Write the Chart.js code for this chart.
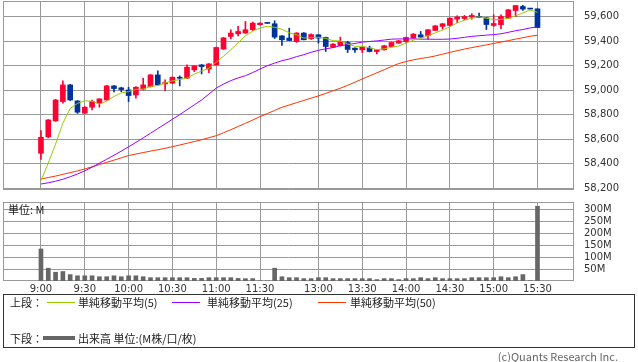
<!DOCTYPE html>
<html>
<head>
<meta charset="utf-8">
<script src="https://cdn.jsdelivr.net/npm/chart.js@4.4.1/dist/chart.umd.min.js"></script>
<style>
  body { margin: 0; background: #fff; width: 638px; height: 362px; position: relative; overflow: hidden;
         font-family: "Noto Sans CJK JP", sans-serif; color: #222; }
  canvas { position: absolute; left: 0; }
  #price { top: 0; }
  #volume { top: 196px; }
  .t { position: absolute; font-size: 11px; line-height: 14px; white-space: nowrap; }
  .ln { position: absolute; height: 1px; }
  #box { position: absolute; left: 3px; top: 294px; width: 630px; height: 52px; border: 1px solid #333; }
  #copy { position: absolute; right: 20px; top: 349px; font-size: 11px; line-height: 14px; color: #666; }
</style>
</head>
<body>
<canvas id="price" width="638" height="192"></canvas>
<canvas id="volume" width="638" height="100"></canvas>
<div class="t" style="left:8px;top:202px;">単位: M</div>

<div id="box"></div>
<div class="t" style="left:10px;top:295px;">上段：</div>
<div class="ln" style="left:47px;top:302px;width:28px;background:#99cc00;"></div>
<div class="t" style="left:78px;top:295px;">単純移動平均(5)</div>
<div class="ln" style="left:172px;top:302px;width:28px;background:#9900ff;"></div>
<div class="t" style="left:207px;top:295px;">単純移動平均(25)</div>
<div class="ln" style="left:318px;top:302px;width:28px;background:#ff3300;"></div>
<div class="t" style="left:350px;top:295px;">単純移動平均(50)</div>
<div class="t" style="left:10px;top:331px;">下段：</div>
<div class="ln" style="left:43px;top:336px;width:32px;height:4px;background:#666;"></div>
<div class="t" style="left:78px;top:331px;">出来高 単位:(M株/口/枚)</div>
<div id="copy">(c)Quants Research Inc.</div>

<script>
// 5-minute bars, 9:00 .. 15:30 (slot 31 is the empty lunch slot)
var open = [
  58484, 58618, 58749, 58907, 59043, 58912, 58812, 58861, 58893, 58920,
  59035, 59019, 59002, 58961, 59008, 59029, 59125, 59051, 59057, 59106,
  59098, 59166, 59207, 59172, 59207, 59336, 59439, 59461, 59467, 59494,
  59535, 59548, 59543, 59444, 59426, 59398, 59467, 59420, 59453, 59431,
  59352, 59365, 59390, 59344, 59330, 59344, 59316, 59330, 59357, 59385,
  59398, 59426, 59453, 59447, 59488, 59521, 59529, 59581, 59586, 59598,
  59602, 59592, 59529, 59535, 59589, 59651, 59684, 59665, 59665
];
var high = [
  58669, 58760, 58925, 59076, 59048, 58915, 58866, 58920, 58929, 59040,
  59038, 59024, 59024, 59030, 59098, 59128, 59158, 59084, 59108, 59117,
  59207, 59200, 59209, 59218, 59352, 59430, 59494, 59521, 59562, 59557,
  59550, 59548, 59567, 59446, 59507, 59470, 59470, 59460, 59455, 59434,
  59380, 59434, 59400, 59346, 59354, 59360, 59332, 59366, 59392, 59406,
  59434, 59464, 59480, 59496, 59528, 59545, 59592, 59608, 59611, 59625,
  59630, 59594, 59616, 59616, 59660, 59694, 59693, 59665, 59665
];
var low = [
  58435, 58610, 58745, 58893, 58915, 58810, 58810, 58839, 58861, 58918,
  58986, 58988, 58907, 58935, 59000, 59025, 59040, 58997, 59055, 59035,
  59095, 59152, 59133, 59144, 59205, 59334, 59420, 59444, 59465, 59488,
  59533, 59546, 59422, 59365, 59404, 59390, 59410, 59415, 59385, 59316,
  59348, 59360, 59308, 59308, 59308, 59312, 59297, 59328, 59355, 59383,
  59390, 59424, 59432, 59417, 59486, 59499, 59527, 59553, 59575, 59581,
  59592, 59496, 59521, 59502, 59587, 59600, 59653, 59663, 59512
];
var close = [
  58615, 58757, 58920, 59043, 58920, 58820, 58861, 58907, 58929, 59035,
  59013, 59005, 58956, 59024, 59043, 59125, 59043, 59062, 59106, 59098,
  59188, 59199, 59193, 59215, 59349, 59428, 59467, 59480, 59494, 59548,
  59548, 59546, 59434, 59412, 59406, 59467, 59412, 59455, 59426, 59357,
  59376, 59398, 59333, 59330, 59352, 59316, 59330, 59363, 59390, 59404,
  59431, 59458, 59434, 59494, 59526, 59543, 59589, 59598, 59602, 59611,
  59594, 59537, 59545, 59602, 59657, 59692, 59663, 59663, 59512
];
var ma5 = [
  58260, 58405, 58560, 58730, 58851, 58892, 58913, 58910, 58887, 58910,
  58949, 58978, 58988, 59007, 59008, 59031, 59038, 59059, 59076, 59087,
  59099, 59131, 59157, 59179, 59229, 59277, 59330, 59388, 59444, 59483,
  59507, 59523, 59514, 59498, 59469, 59453, 59426, 59430, 59433, 59423,
  59405, 59402, 59378, 59359, 59358, 59346, 59332, 59338, 59350, 59361,
  59384, 59409, 59423, 59444, 59469, 59491, 59517, 59550, 59572, 59589,
  59599, 59588, 59578, 59578, 59587, 59607, 59632, 59655, 59637
];
var ma25 = [
  58233, 58243, 58256, 58272, 58292, 58315, 58340, 58371, 58403, 58435,
  58468, 58502, 58537, 58573, 58610, 58648, 58686, 58724, 58762, 58800,
  58840, 58880, 58920, 58968, 59017, 59050, 59078, 59100, 59118, 59144,
  59173, 59200, 59221, 59241, 59255, 59274, 59290, 59310, 59326, 59338,
  59348, 59363, 59373, 59382, 59393, 59398, 59403, 59410, 59417, 59419,
  59419, 59419, 59417, 59417, 59416, 59416, 59418, 59424, 59432, 59440,
  59445, 59450, 59454, 59461, 59473, 59486, 59496, 59509, 59517
];
var ma50 = [
  58274, 58286, 58298, 58312, 58326, 58340, 58356, 58374, 58392, 58410,
  58428, 58447, 58466, 58478, 58490, 58502, 58513, 58525, 58538, 58552,
  58566, 58580, 58595, 58611, 58628, 58652, 58677, 58703, 58729, 58756,
  58784, 58809, 58834, 58860, 58879, 58898, 58916, 58935, 58953, 58974,
  58995, 59016, 59040, 59065, 59092, 59117, 59142, 59167, 59193, 59218,
  59234, 59248, 59259, 59268, 59280, 59294, 59309, 59323, 59336, 59348,
  59359, 59370, 59382, 59393, 59405, 59417, 59429, 59441, 59449
];
// volume, millions
var volume = [
  135, 54, 37, 40, 27, 22, 22, 22, 18, 18,
  22, 18, 22, 22, 18, 14, 14, 14, 14, 14,
  14, 11, 11, 14, 14, 14, 14, 11, 10, 10,
  1, 0, 54, 18, 14, 14, 10, 10, 14, 14,
  10, 10, 10, 10, 10, 10, 6, 10, 10, 6,
  10, 10, 14, 10, 14, 10, 10, 10, 10, 14,
  14, 14, 14, 18, 14, 18, 27, 1, 315
];

var timeTickSlots = [0, 6, 12, 18, 24, 30, 38, 44, 50, 56, 62, 68];
var timeTickLabels = ['9:00', '9:30', '10:00', '10:30', '11:00', '11:30',
                      '13:00', '13:30', '14:00', '14:30', '15:00', '15:30'];
var priceTicks = [58200, 58400, 58600, 58800, 59000, 59200, 59400, 59600];
var volumeTicks = [50, 100, 150, 200, 250, 300];

var RED = '#ff0033', BLUE = '#003399', GRID = '#999999';
var X_MIN = -5.2, X_MAX = 73.0;

Chart.defaults.font.family = '"DejaVu Sans", sans-serif';
Chart.defaults.font.size = 10;
Chart.defaults.color = '#333';

var slots = close.map(function(c, i) { return i; });
var candleColor = close.map(function(c, i) { return c > open[i] ? RED : BLUE; });

function xy(arr) {
    return slots.map(function(i) { return {x: i, y: arr[i]}; });
}

function noPad(s) {
    s.paddingLeft = 0; s.paddingRight = 0; s.paddingTop = 0; s.paddingBottom = 0;
}

var frame = {
    id: 'frame',
    beforeDatasetsDraw: function(chart) {
        var a = chart.chartArea, ctx = chart.ctx;
        ctx.save();
        ctx.strokeStyle = GRID;
        ctx.lineWidth = 1;
        ctx.strokeRect(Math.round(a.left) + 0.5, Math.round(a.top) + 0.5,
                       Math.round(a.right - a.left) - 1, Math.round(a.bottom - a.top) - 1);
        ctx.restore();
    }
};

function timeAxis(showLabels, height) {
    return {
        type: 'linear', min: X_MIN, max: X_MAX, offset: false,
        afterBuildTicks: function(s) {
            s.ticks = timeTickSlots.map(function(v) { return {value: v}; });
        },
        afterFit: function(s) { s.height = height; noPad(s); },
        grid: {color: GRID, drawTicks: false, offset: false},
        border: {display: false},
        ticks: {
            display: showLabels, padding: 2, autoSkip: false, maxRotation: 0,
            callback: function(v) { return timeTickLabels[timeTickSlots.indexOf(v)]; }
        }
    };
}

function valueAxis(min, max, ticks, fmt) {
    return {
        position: 'right', min: min, max: max,
        afterBuildTicks: function(s) {
            s.ticks = ticks.map(function(v) { return {value: v}; });
        },
        afterFit: function(s) { s.width = 64; noPad(s); },
        grid: {color: GRID, drawTicks: false},
        border: {display: false},
        ticks: {padding: 10, callback: fmt}
    };
}

function line(arr, color) {
    return {
        type: 'line', data: xy(arr), borderColor: color, borderWidth: 1,
        pointRadius: 0, tension: 0
    };
}

new Chart(document.getElementById('price'), {
    type: 'bar',
    data: {
        datasets: [
            line(ma5, '#99cc00'),
            line(ma25, '#9900ff'),
            line(ma50, '#ff3300'),
            {
                data: slots.map(function(i) { return {x: i, y: [open[i], close[i]]}; }),
                backgroundColor: candleColor, barThickness: 5, grouped: false, minBarLength: 1
            },
            {
                data: slots.map(function(i) { return {x: i, y: [low[i], high[i]]}; }),
                backgroundColor: candleColor, barThickness: 1, grouped: false
            }
        ]
    },
    options: {
        responsive: false, animation: false, events: [],
        layout: {padding: {left: 3, top: 1, right: 0, bottom: 0}},
        plugins: {legend: {display: false}, tooltip: {enabled: false}},
        scales: {
            x: timeAxis(false, 2),
            y: valueAxis(58184, 59729, priceTicks, function(v) { return v.toLocaleString('en-US'); })
        }
    },
    plugins: [frame]
});

new Chart(document.getElementById('volume'), {
    type: 'bar',
    data: {
        datasets: [{
            data: xy(volume),
            backgroundColor: '#666666', barThickness: 4
        }]
    },
    options: {
        responsive: false, animation: false, events: [],
        layout: {padding: {left: 3, top: 6, right: 0, bottom: 0}},
        plugins: {legend: {display: false}, tooltip: {enabled: false}},
        scales: {
            x: timeAxis(true, 15),
            y: valueAxis(0, 333, volumeTicks, function(v) { return v + 'M'; })
        }
    },
    plugins: [frame]
});
</script>
</body>
</html>
